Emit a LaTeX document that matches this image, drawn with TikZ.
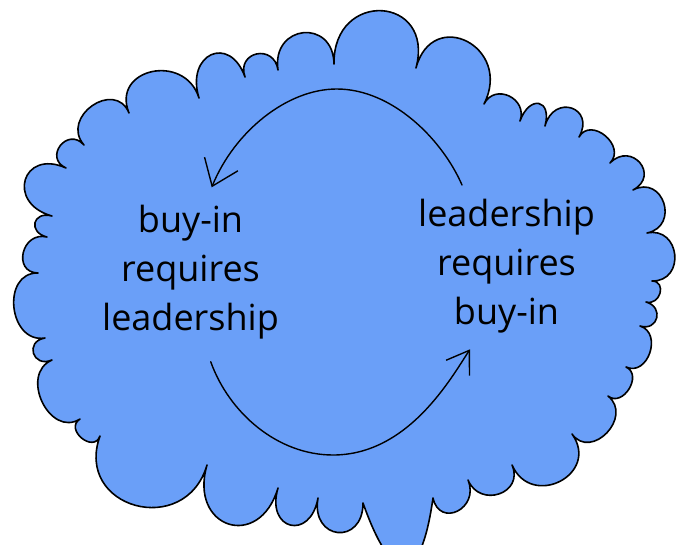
\documentclass[tikz,border=0pt]{standalone}
\usepackage{fontspec}
\setmainfont{Open Sans}
\usetikzlibrary{calc,arrows.meta}
\definecolor{cloudblue}{HTML}{6A9FF8}
\tikzset{
  cloud/.style={fill=cloudblue, draw=black, line width=1.6pt, line join=round},
  lbl/.style={align=center, inner sep=0pt, font=\fontsize{36}{49}\selectfont},
  loop/.style={draw=black, line width=1.4pt, line cap=round},
}
\begin{document}
\begin{tikzpicture}[x=1pt,y=-1pt]
\useasboundingbox (0,0) rectangle (685,544);
% cusps of the cloud, clockwise
\coordinate (P1) at (129,113);
\coordinate (P2) at (199,98);
\coordinate (P3) at (245,77);
\coordinate (P4) at (278,70);
\coordinate (P5) at (334,64);
\coordinate (P6) at (416,68);
\coordinate (P7) at (484,104);
\coordinate (P8) at (520,121);
\coordinate (P9) at (545,126);
\coordinate (P10) at (579,137);
\coordinate (P11) at (610,163);
\coordinate (P12) at (633,190);
\coordinate (P13) at (647,233);
\coordinate (P14) at (652,281);
\coordinate (P15) at (646,302);
\coordinate (P16) at (640,326);
\coordinate (P17) at (626,367);
\coordinate (P18) at (608,396);
\coordinate (P19) at (572,434);
\coordinate (P20) at (512,465);
\coordinate (P21) at (468,480);
\coordinate (P22) at (433,498);
\coordinate (P23) at (363,503);
\coordinate (P24) at (318,498);
\coordinate (P25) at (278,488);
\coordinate (P26) at (207,465);
\coordinate (P27) at (100,436);
\coordinate (P28) at (80,419);
\coordinate (P29) at (52,360);
\coordinate (P30) at (45,338);
\coordinate (P31) at (38,273);
\coordinate (P32) at (47,237);
\coordinate (P33) at (52,216);
\coordinate (P34) at (66,168);
\coordinate (P35) at (84,145);
% outward direction at each cusp
\foreach \i in {1,...,35}{
  \pgfmathtruncatemacro\ipv{mod(\i+33,35)+1}
  \pgfmathtruncatemacro\inx{mod(\i,35)+1}
  \coordinate (R\i) at ($(P\ipv)!1!90:(P\inx)$);
  \coordinate (D\i) at ($(P\i)+(R\i)-(P\ipv)$);
}
\path[cloud] (P1)
  \foreach \a/\b/\s in {1/2/48pt, 2/3/46pt, 3/4/27pt, 4/5/46pt,
     5/6/75pt, 6/7/64pt, 7/8/24pt, 8/9/28pt, 9/10/34pt,
     10/11/24pt, 11/12/31pt, 12/13/34pt, 13/14/34pt, 14/15/15pt,
     15/16/19pt, 16/17/24pt, 17/18/19pt, 18/19/33pt, 19/20/49pt,
     20/21/31pt, 21/22/31pt}
  { .. controls ($(P\a)!\s!(D\a)$) and ($(P\b)!\s!(D\b)$) .. (P\b) }
  .. controls (420,590) and (392,585) .. (P23)
  \foreach \a/\b/\s in {23/24/43pt, 24/25/44pt,
     25/26/66pt, 26/27/77pt, 27/28/19pt, 28/29/36pt, 29/30/21pt,
     30/31/37pt, 31/32/26pt, 32/33/20pt, 33/34/48pt, 34/35/25pt,
     35/1/37pt}
  { .. controls ($(P\a)!\s!(D\a)$) and ($(P\b)!\s!(D\b)$) .. (P\b) } -- cycle;

\node[lbl] (left) at (190.5,272) {buy-in\\requires\\leadership};
\node[lbl] (right) at (506.5,266) {leadership\\requires\\buy-in};

\coordinate (topStart) at (462,185);
\coordinate (topMid) at (336.7,89);
\coordinate (topEnd) at (211.7,187.3);
\coordinate (botStart) at (210.7,361.7);
\coordinate (botMid) at (333,455);
\coordinate (botEnd) at (470,349.3);

\draw[loop, -{Straight Barb[length=24pt,width=36pt,line width=1.4pt]}]
  (topStart) .. controls (442,139) and (392,89) .. (topMid)
  .. controls (287,89) and (234.5,131.5) .. (topEnd);
\draw[loop, -{Straight Barb[length=21pt,width=28pt,line width=1.4pt]}]
  (botStart) .. controls (229.3,413.5) and (278,455) .. (botMid)
  .. controls (408,455) and (450.8,378.6) .. (botEnd);
\end{tikzpicture}
\end{document}
